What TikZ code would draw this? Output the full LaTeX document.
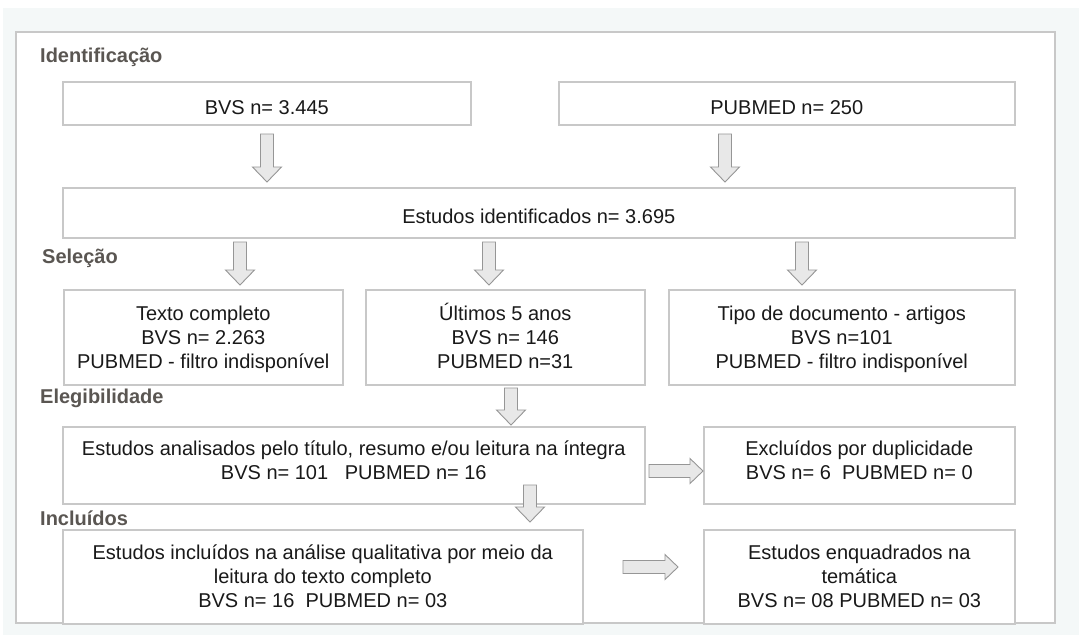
\documentclass[tikz,border=0pt]{standalone}
\usepackage{fontspec}
\setmainfont{Liberation Sans}
\definecolor{bgc}{RGB}{244,248,248}
\definecolor{boxline}{RGB}{200,200,200}
\definecolor{panelline}{RGB}{200,200,200}
\definecolor{lab}{RGB}{90,86,82}
\definecolor{txt}{RGB}{25,25,25}
\definecolor{arrfill}{RGB}{232,232,232}
\definecolor{arrline}{RGB}{150,150,150}
\newcommand\fatdown[3]{\draw[fatarr] (#1-6.5,#2) -- (#1+6.5,#2) -- (#1+6.5,#3-15) -- (#1+14.5,#3-15) -- (#1,#3) -- (#1-14.5,#3-15) -- (#1-6.5,#3-15) -- cycle;}
\newcommand\fatright[3]{\draw[fatarr] (#1,#3-6.5) -- (#2-13,#3-6.5) -- (#2-13,#3-12.5) -- (#2,#3) -- (#2-13,#3+12.5) -- (#2-13,#3+6.5) -- (#1,#3+6.5) -- cycle;}
\newcommand\tstr{\rule{0pt}{19pt}}
\newcommand\bstr[1][5pt]{\rule[-#1]{0pt}{#1}}
\begin{document}
\begin{tikzpicture}[x=1pt,y=-1pt,
  box/.style={draw=boxline, line width=1.6pt, fill=white, inner sep=0pt, anchor=north west, align=center, text=txt, font=\fontsize{20}{24}\selectfont},
  oneline/.style={text height=22pt, text depth=0pt},
  lbl/.style={anchor=base west, inner sep=0pt, text=lab, font=\bfseries\fontsize{20}{24}\selectfont},
  fatarr/.style={fill=arrfill, draw=arrline, line width=0.9pt, line join=miter}]
\useasboundingbox (0,0) rectangle (1079,635);
% background and panel
\fill[bgc] (3,8) rectangle (1079,635);
\draw[panelline, line width=1.4pt, fill=white] (16,32) rectangle (1055,623);
% labels
\node[lbl] (lid) at (40,62) {Identificação};
\node[lbl] (lsel) at (42,263) {Seleção};
\node[lbl] (lele) at (40,403) {Elegibilidade};
\node[lbl] (linc) at (40,525) {Incluídos};
% boxes
\node[box, oneline, minimum width=408pt, minimum height=43pt] (bvs) at (62,81) {BVS n= 3.445};
\node[box, oneline, minimum width=456pt, minimum height=43pt] (pub) at (558,81) {PUBMED n= 250};
\node[box, oneline, minimum width=952pt, minimum height=50pt] (est) at (62,187) {Estudos identificados n= 3.695};
\node[box, minimum width=279pt, minimum height=95pt] (s1) at (63,289) {\tstr Texto completo\\BVS n= 2.263\\PUBMED - filtro indisponível\bstr};
\node[box, minimum width=279pt, minimum height=95pt] (s2) at (365,289) {\tstr\smash{Ú}ltimos 5 anos\\BVS n= 146\\PUBMED n=31\bstr};
\node[box, minimum width=346pt, minimum height=95pt] (s3) at (668,289) {\tstr Tipo de documento - artigos\\BVS n=101\\PUBMED - filtro indisponível\bstr};
\node[box, minimum width=582pt, minimum height=77pt] (ana) at (62,426) {\tstr Estudos analisados pelo título, resumo e/ou leitura na íntegra\\BVS n= 101\ \ \ PUBMED n= 16\bstr[14pt]};
\node[box, minimum width=311pt, minimum height=77pt] (exc) at (703,426) {\tstr Excluídos por duplicidade\\BVS n= 6\ \ PUBMED n= 0\bstr[14pt]};
\node[box, minimum width=520pt, minimum height=94pt] (inc) at (62,529) {\tstr Estudos incluídos na análise qualitativa por meio da\\leitura do texto completo\\BVS n= 16\ \ PUBMED n= 03\bstr};
\node[box, minimum width=311pt, minimum height=94pt] (enq) at (703,529) {\tstr Estudos enquadrados na\\temática\\BVS n= 08 PUBMED n= 03\bstr};
% block arrows
\fatdown{267}{134}{182}
\fatdown{725}{134}{182}
\fatdown{240}{242}{285}
\fatdown{489}{242}{285}
\fatdown{802}{242}{285}
\fatdown{511}{388}{425}
\fatdown{530}{485}{522}
\fatright{649}{703}{471}
\fatright{623}{678}{567}
\end{tikzpicture}
\end{document}
